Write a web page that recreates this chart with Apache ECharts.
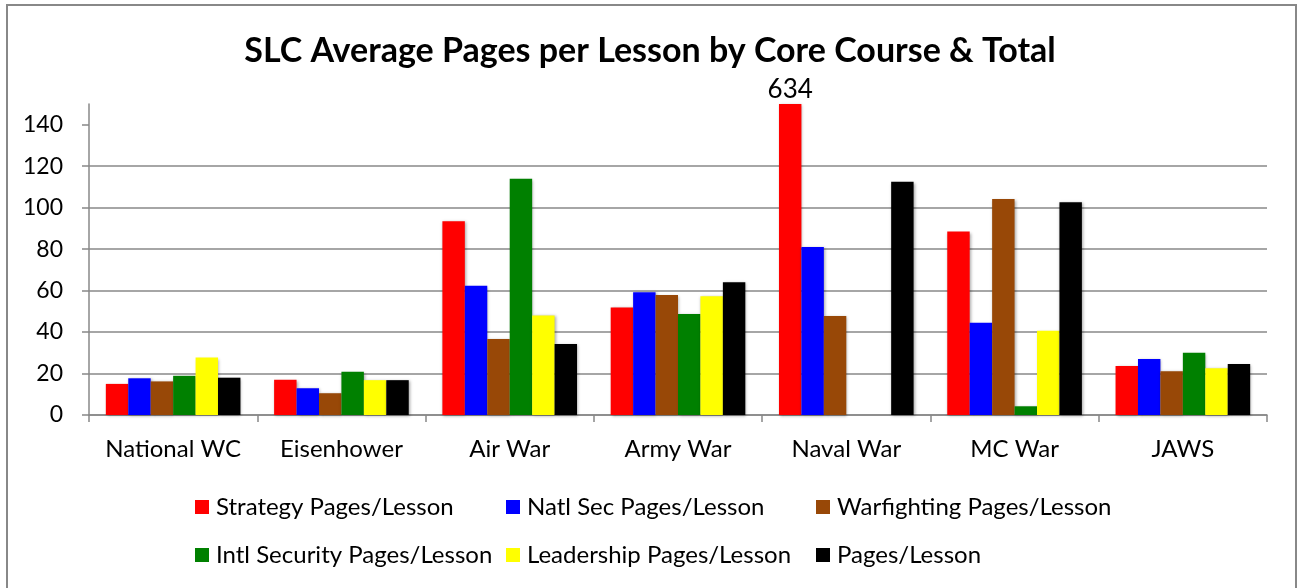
<!DOCTYPE html>
<html>
<head>
<meta charset="utf-8">
<script src="https://cdn.jsdelivr.net/npm/echarts@6/dist/echarts.min.js"></script>
<style>
html,body{margin:0;padding:0;background:#fff;}
#chart{width:1300px;height:588px;}
</style>
</head>
<body>
<div id="chart"></div>
<script>
const categories = ['National WC', 'Eisenhower', 'Air War', 'Army War', 'Naval War', 'MC War', 'JAWS'];
const strategy    = [15.0, 17.0, 93.5, 51.9, 634, 88.5, 23.6];
const natlSec     = [17.7, 12.9, 62.3, 59.2, 81.0, 44.5, 27.0];
const warfighting = [16.2, 10.5, 36.6, 57.9, 47.7, 104.2, 21.1];
const intlSec     = [18.9, 20.9, 114.0, 48.7, null, 4.2, 30.0];
const leadership  = [27.7, 16.8, 48.0, 57.3, null, 40.6, 22.5];
const total       = [18.0, 16.8, 34.2, 64.0, 112.5, 102.6, 24.6];
const yTicks = [0, 20, 40, 60, 80, 100, 120, 140];

const seriesDefs = [
  {name: 'Strategy Pages/Lesson', data: strategy, color: '#ff0000'},
  {name: 'Natl Sec Pages/Lesson', data: natlSec, color: '#0000ff'},
  {name: 'Warfighting Pages/Lesson', data: warfighting, color: '#984807'},
  {name: 'Intl Security Pages/Lesson', data: intlSec, color: '#008000'},
  {name: 'Leadership Pages/Lesson', data: leadership, color: '#ffff00'},
  {name: 'Pages/Lesson', data: total, color: '#000000'}
];
const AXMAX = 150;
const FONT = 'Lato, "Open Sans", sans-serif';

const series = seriesDefs.map((s, i) => ({
  name: s.name,
  type: 'bar',
  data: s.data,
  barGap: '0%',
  barCategoryGap: '20%',
  clip: true,
  itemStyle: {color: s.color, shadowColor: 'rgba(0,0,0,0.35)', shadowBlur: 3, shadowOffsetX: 1, shadowOffsetY: 1},
  label: {
    show: true,
    position: 'top',
    distance: 1,
    fontFamily: FONT,
    fontSize: 26,
    color: '#000',
    formatter: p => (p.value > AXMAX ? String(p.value) : '')
  }
}));

const legendPos = [
  [195, 495], [506, 495], [816, 495],
  [195, 543], [506, 543], [816, 543]
];
const legends = seriesDefs.map((s, i) => ({
  data: [s.name],
  left: legendPos[i][0],
  top: legendPos[i][1],
  icon: 'rect',
  itemWidth: 14,
  itemHeight: 14,
  itemGap: 0,
  padding: 0,
  textStyle: {fontFamily: FONT, fontSize: 24, color: '#000', padding: [0, 0, 0, 2]}
}));

const chart = echarts.init(document.getElementById('chart'), null, {renderer: 'canvas'});
chart.setOption({
  backgroundColor: '#fff',
  animation: false,
  title: {
    text: 'SLC Average Pages per Lesson by Core Course & Total',
    left: 'center',
    top: 29,
    textStyle: {fontFamily: FONT, fontWeight: 'bold', fontSize: 34, color: '#000'}
  },
  graphic: [{
    type: 'rect',
    shape: {x: 7, y: 5, width: 1289, height: 600},
    style: {fill: 'none', stroke: '#888', lineWidth: 2},
    silent: true,
    z: -1
  }],
  legend: legends,
  grid: {left: 89, right: 33, top: 104, bottom: 173, containLabel: false},
  xAxis: {
    type: 'category',
    data: categories,
    axisLine: {lineStyle: {color: '#888', width: 1.5}},
    axisTick: {show: true, interval: 0, length: 7, lineStyle: {color: '#888', width: 1.5}},
    axisLabel: {fontFamily: FONT, fontSize: 24, color: '#000', margin: 22, interval: 0, hideOverlap: false}
  },
  yAxis: {
    type: 'value',
    min: 0,
    max: AXMAX,
    interval: 20,
    axisLine: {show: true, lineStyle: {color: '#888', width: 1.5}},
    axisTick: {show: true, length: 7, lineStyle: {color: '#888', width: 1.5}, customValues: yTicks},
    axisLabel: {fontFamily: FONT, fontSize: 23, color: '#000', margin: 26, customValues: yTicks},
    splitLine: {show: true, showMaxLine: false, lineStyle: {color: '#888', width: 1.5}}
  },
  series: series
});
</script>
</body>
</html>
